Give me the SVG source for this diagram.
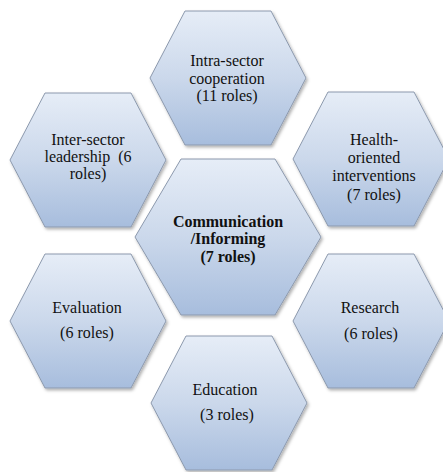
<svg xmlns="http://www.w3.org/2000/svg" width="443" height="472" viewBox="0 0 443 472">
<defs>
<linearGradient id="g" x1="0" y1="0" x2="0" y2="1">
<stop offset="0" stop-color="#e6edf7"/>
<stop offset="0.5" stop-color="#cbd8eb"/>
<stop offset="1" stop-color="#a7bddd"/>
</linearGradient>
<filter id="sh" x="-10%" y="-10%" width="125%" height="125%">
<feDropShadow dx="1.5" dy="2" stdDeviation="1.5" flood-color="#000" flood-opacity="0.3"/>
</filter>
</defs>
<style>
.hex{fill:url(#g);stroke:#8c99ad;stroke-width:1;filter:url(#sh)}
.t{font-family:"Liberation Serif","Times New Roman",serif;font-size:16px;fill:#111;text-anchor:middle}
.b{font-weight:bold}
</style>
<rect width="443" height="472" fill="#fff"/>
<g id="intra">
<polygon class="hex" points="150,78 185,11 271,11 306,78 271,145 185,145"/>
<text class="t" x="227" y="66">Intra-sector</text>
<text class="t" x="227" y="84">cooperation</text>
<text class="t" x="227" y="101">(11 roles)</text>
</g>
<g id="inter">
<polygon class="hex" points="10,160 45,93 131,93 166,160 131,227 45,227"/>
<text class="t" x="88" y="145">Inter-sector</text>
<text class="t" x="88" y="162" xml:space="preserve">leadership  (6</text>
<text class="t" x="88" y="179">roles)</text>
</g>
<g id="health">
<polygon class="hex" points="293,159 328,92 414,92 449,159 414,226 328,226"/>
<text class="t" x="374" y="145">Health-</text>
<text class="t" x="374" y="163">oriented</text>
<text class="t" x="374" y="181">interventions</text>
<text class="t" x="374" y="200">(7 roles)</text>
</g>
<g id="evaluation">
<polygon class="hex" points="10,321 45,254 131,254 166,321 131,388 45,388"/>
<text class="t" x="87" y="313">Evaluation</text>
<text class="t" x="87" y="338">(6 roles)</text>
</g>
<g id="research">
<polygon class="hex" points="293,321 328,254 414,254 449,321 414,388 328,388"/>
<text class="t" x="370" y="313">Research</text>
<text class="t" x="371" y="339">(6 roles)</text>
</g>
<g id="education">
<polygon class="hex" points="151,403 186,336 272,336 307,403 272,470 186,470"/>
<text class="t" x="225" y="395">Education</text>
<text class="t" x="227" y="420">(3 roles)</text>
</g>
<g id="center">
<polygon class="hex" points="135,237 181,159 275,159 321,237 275,315 181,315"/>
<text class="t b" x="228" y="227">Communication</text>
<text class="t b" x="228" y="244">/Informing</text>
<text class="t b" x="228" y="262">(7 roles)</text>
</g>
</svg>
